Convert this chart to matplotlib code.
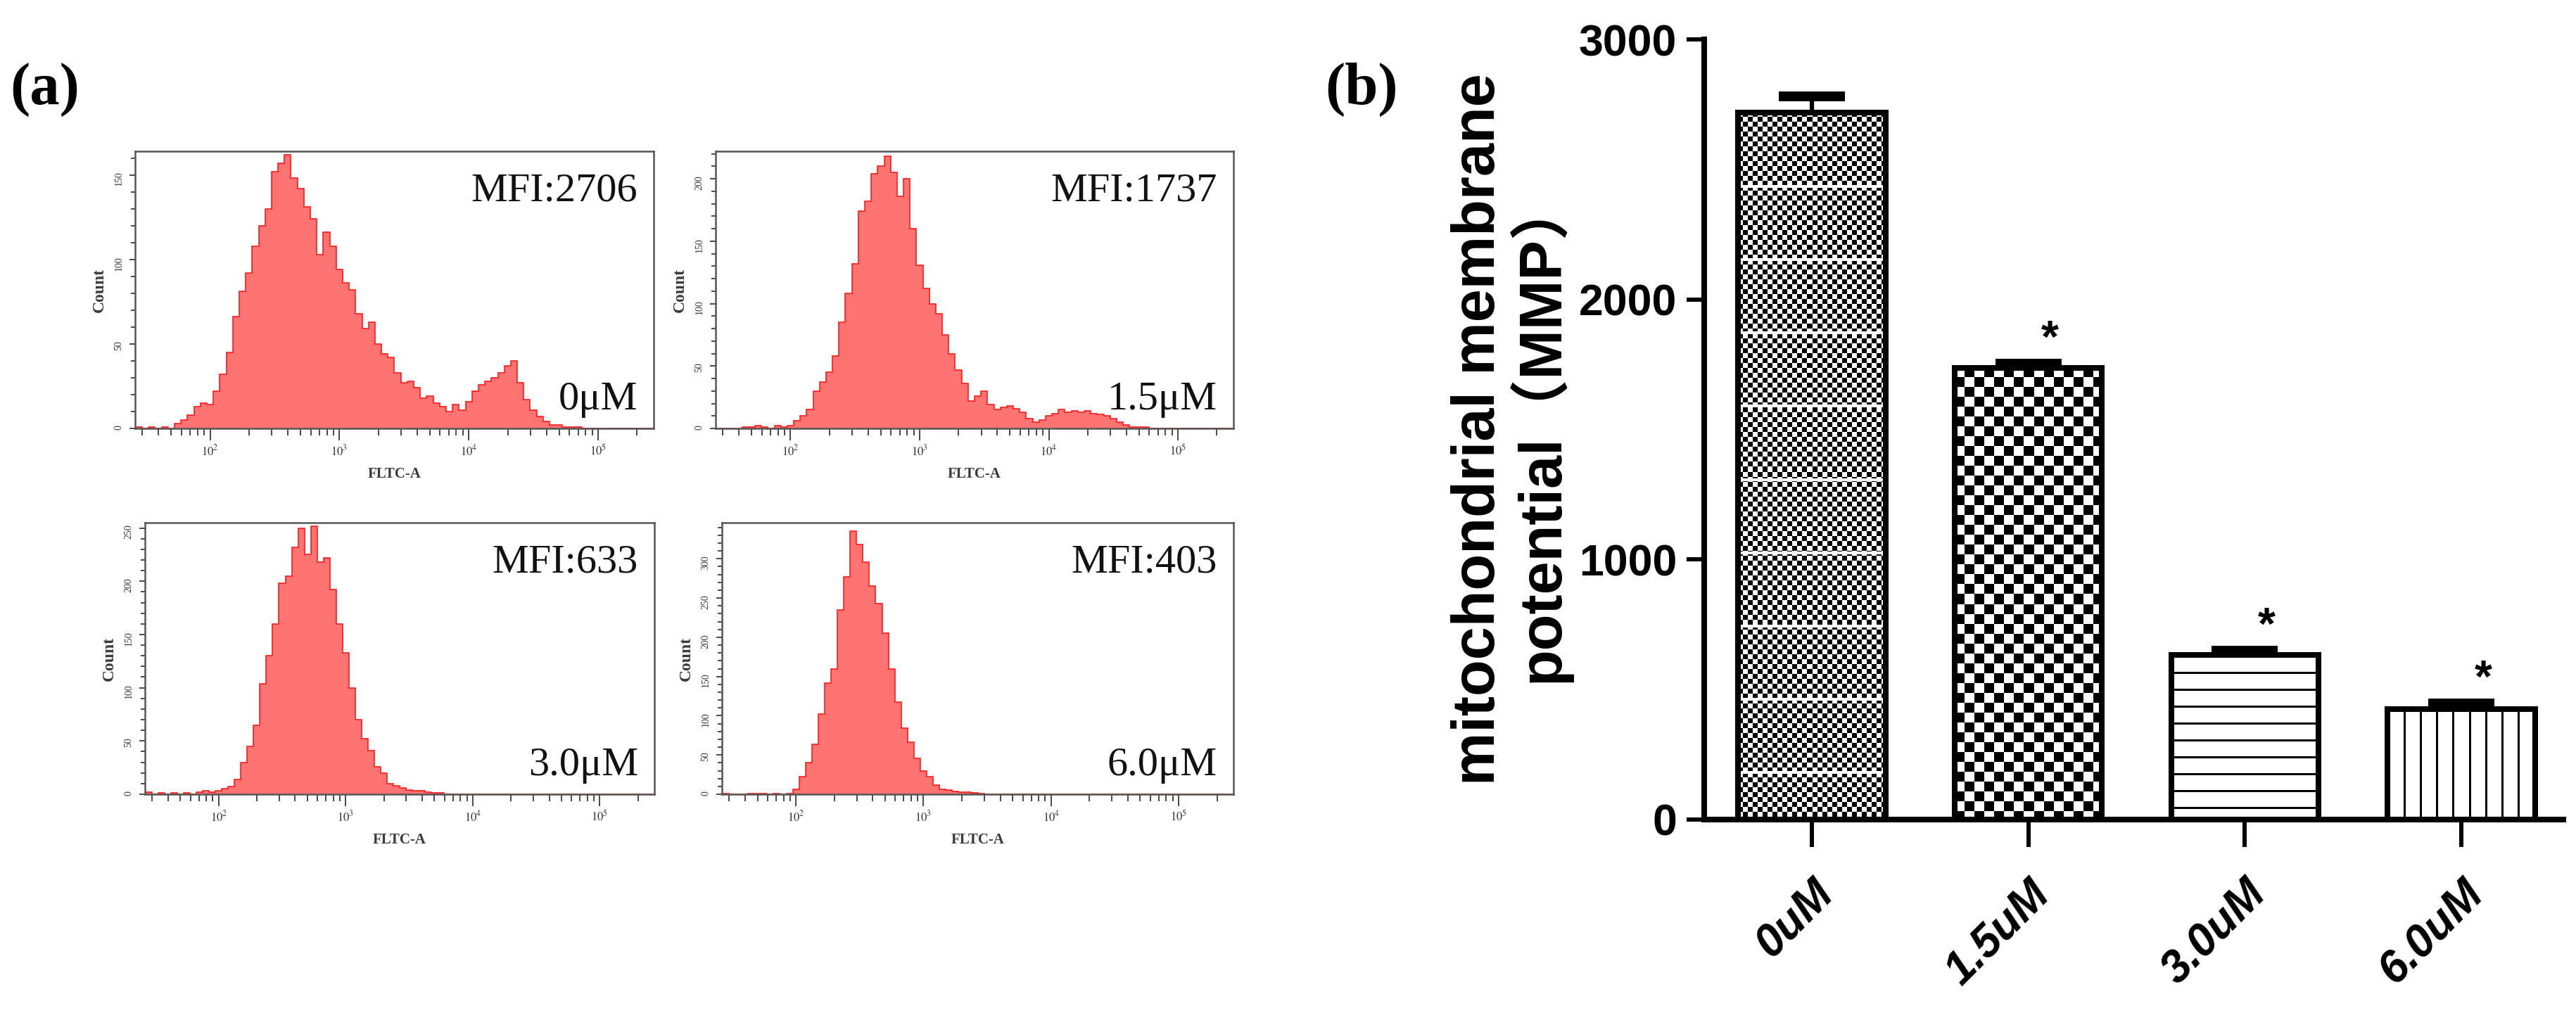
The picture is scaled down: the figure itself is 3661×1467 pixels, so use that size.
import numpy as np
import matplotlib
matplotlib.use('Agg')
import matplotlib.pyplot as plt
from matplotlib.ticker import MultipleLocator, LogLocator, NullFormatter

plt.rcParams['mathtext.fontset'] = 'stix'

# ---------------- data ----------------
# (a) flow cytometry histograms: counts per channel, channels every 0.05 decade from 10^1.45
log_start = 1.45
log_step = 0.05
counts_0uM = [1, 0, 1, 0, 1, 0, 3, 5, 8, 13,
              15, 14, 22, 32, 45, 66, 81, 92, 108, 120,
              130, 152, 157, 162, 148, 142, 131, 124, 103, 116,
              108, 94, 86, 82, 68, 59, 63, 50, 44, 42,
              33, 27, 28, 24, 18, 19, 15, 13, 10, 14,
              11, 16, 22, 26, 28, 30, 33, 37, 40, 27,
              17, 11, 7, 4, 2, 2, 1, 1, 1, 0,
              0, 0, 0, 0, 0, 0, 0, 0, 0, 0]
counts_15uM = [0, 0, 0, 0, 1, 1, 2, 1, 0, 2,
               1, 2, 6, 10, 15, 30, 37, 45, 58, 85,
               108, 132, 174, 182, 204, 210, 218, 205, 186, 200,
               160, 131, 112, 100, 92, 75, 60, 47, 36, 22,
               26, 30, 19, 15, 17, 18, 16, 13, 8, 5,
               7, 10, 12, 15, 13, 14, 13, 14, 12, 11,
               10, 8, 5, 3, 1, 1, 1, 0, 0, 0,
               0, 0, 0, 0, 0, 0, 0, 0, 0, 0]
counts_30uM = [2, 0, 1, 0, 1, 0, 1, 0, 2, 3,
               2, 3, 5, 7, 14, 30, 45, 65, 104, 130,
               160, 198, 205, 232, 250, 225, 252, 218, 222, 192,
               160, 133, 100, 70, 52, 41, 26, 20, 10, 8,
               6, 4, 3, 3, 2, 1, 1, 0, 0, 0,
               0, 0, 0, 0, 0, 0, 0, 0, 0, 0,
               0, 0, 0, 0, 0, 0, 0, 0, 0, 0,
               0, 0, 0, 0, 0, 0, 0, 0, 0, 0]
counts_60uM = [1, 0, 0, 0, 1, 1, 1, 0, 1, 0,
               1, 6, 22, 40, 64, 102, 142, 160, 235, 277,
               335, 318, 296, 265, 243, 205, 160, 117, 84, 66,
               46, 30, 22, 12, 6, 5, 4, 3, 3, 2,
               1, 0, 0, 0, 0, 0, 0, 0, 0, 0,
               0, 0, 0, 0, 0, 0, 0, 0, 0, 0,
               0, 0, 0, 0, 0, 0, 0, 0, 0, 0,
               0, 0, 0, 0, 0, 0, 0, 0, 0, 0]
hist_counts = [counts_0uM, counts_15uM, counts_30uM, counts_60uM]
dose_labels = ['0μM', '1.5μM', '3.0μM', '6.0μM']
mfi_values = [2706, 1737, 633, 403]
count_max = [164, 222, 255, 346]

# (b) mitochondrial membrane potential
groups = ['0uM', '1.5uM', '3.0uM', '6.0uM']
mmp_mean = [2720, 1737, 633, 425]
mmp_err = [60, 15, 15, 20]
significant = [False, True, True, True]
bar_fills = ['fine', 'coarse', 'hlines', 'vlines']

# ---------------- figure ----------------
W, H = 3662, 1467
fig = plt.figure(figsize=(W / 100, H / 100), dpi=100)


def px_rect(x0, y0, x1, y1):
    return [x0 / W, 1 - y1 / H, (x1 - x0) / W, (y1 - y0) / H]


hist_boxes = [(192, 215, 929, 609), (1017, 215, 1753, 609),
              (206, 743, 930, 1129), (1026, 743, 1753, 1129)]
serif = 'Liberation Serif'
gray = '#3a3a3a'

for counts, dose, mfi, ymax, box in zip(hist_counts, dose_labels, mfi_values, count_max, hist_boxes):
    ax = fig.add_axes(px_rect(*box))
    n = len(counts)
    edges = 10 ** (log_start - log_step / 2 + log_step * np.arange(n + 1))
    ax.stairs(counts, edges, fill=True, color='#ff7373', lw=0)
    ax.stairs(counts, edges, color='#ff1010', lw=1.1)
    ax.set_xscale('log')
    ax.set_xlim(10 ** 1.42, 10 ** 5.43)
    ax.set_ylim(0, ymax)

    ax.set_xticks([1e2, 1e3, 1e4, 1e5], [r'$10^{2}$', r'$10^{3}$', r'$10^{4}$', r'$10^{5}$'])
    ax.xaxis.set_minor_locator(LogLocator(base=10, subs=np.arange(2, 10), numticks=50))
    ax.xaxis.set_minor_formatter(NullFormatter())
    ax.yaxis.set_major_locator(MultipleLocator(50))
    ax.yaxis.set_minor_locator(MultipleLocator(10))
    ax.tick_params(which='both', direction='out', color=gray, width=1.3, labelcolor=gray)
    ax.tick_params(axis='x', which='major', length=12, pad=4, labelsize=12)
    ax.tick_params(axis='x', which='minor', length=7)
    ax.tick_params(axis='y', which='major', length=6, pad=6, labelsize=10, labelrotation=90)
    ax.tick_params(axis='y', which='minor', length=4)
    for lab in ax.get_yticklabels():
        lab.set_family(serif)
    for sp in ax.spines.values():
        sp.set_color('#555555')
        sp.set_linewidth(1.8)

    bw = box[2] - box[0]
    bh = box[3] - box[1]
    ax.set_ylabel('Count', fontsize=17, fontweight='bold', family=serif, color=gray)
    ax.yaxis.set_label_coords(-40 / bw, 0.5)
    ax.set_xlabel('FLTC-A', fontsize=15, fontweight='bold', family=serif, color=gray)
    ax.xaxis.set_label_coords(0.5, -55 / bh)

    ax.text(1 - 23 / bw, 1 - 30 / bh, 'MFI:%d' % mfi, transform=ax.transAxes,
            ha='right', va='top', fontsize=42, family=serif, color='#111111')
    ax.text(1 - 23 / bw, 27 / bh, dose, transform=ax.transAxes,
            ha='right', va='baseline', fontsize=42, family=serif, color='#111111')

# ---------------- panel (b) ----------------
axb = fig.add_axes(px_rect(2422, 56, 3643, 1165))
xpos = np.arange(len(groups))
axb.set_xlim(-0.497, 3.471)
axb.set_ylim(0, 3000)
bars = axb.bar(xpos, mmp_mean, width=0.68, facecolor='none', edgecolor='black',
               linewidth=5.8, zorder=3)


def pattern(kind, h, w):
    r, c = np.indices((h, w))
    if kind == 'fine':
        img = ((r // 7 + c // 7) % 2).astype(float)
        img[(r % 104) < 4] = 0
    elif kind == 'coarse':
        img = ((r // 14 + c // 14) % 2).astype(float)
    elif kind == 'hlines':
        img = ((r % 24) < 3).astype(float)
    else:
        img = ((c % 23) < 3).astype(float)
    return img


for bar, kind in zip(bars, bar_fills):
    bb = bar.get_window_extent()
    img = pattern(kind, int(round(bb.height)), int(round(bb.width)))
    im = axb.imshow(img, cmap='gray_r', vmin=0, vmax=1, interpolation='nearest',
                    extent=[bar.get_x(), bar.get_x() + bar.get_width(), 0, bar.get_height()],
                    aspect='auto', zorder=2)
    im.set_clip_path(bar)

eb = axb.errorbar(xpos, mmp_mean, yerr=[np.zeros(len(xpos)), mmp_err], fmt='none',
                  ecolor='black', elinewidth=4.5, capsize=34, capthick=10, zorder=4)
eb[1][0].set_visible(False)  # lower cap sits on the bar top, hide it

for xi, m, e, sig in zip(xpos, mmp_mean, mmp_err, significant):
    if sig:
        axb.text(xi + 0.1, m + e + 45, '*', ha='center', va='baseline', fontsize=46,
                 fontweight='bold', family='Liberation Sans')

axb.set_xlim(-0.497, 3.471)
axb.set_ylim(0, 3000)
for s in ['top', 'right']:
    axb.spines[s].set_visible(False)
for s in ['left', 'bottom']:
    axb.spines[s].set_linewidth(5.8)

axb.set_yticks([0, 1000, 2000, 3000])
axb.set_yticklabels(['0', '1000', '2000', '3000'], fontsize=45, fontweight='bold',
                    family='Liberation Sans')
axb.set_xticks(xpos)
axb.set_xticklabels(groups, rotation=45, ha='right', va='top', rotation_mode='anchor',
                    fontsize=46, fontweight='bold', fontstyle='italic', family='Liberation Sans')
axb.tick_params(axis='y', length=18, width=4.3, pad=10)
axb.tick_params(axis='x', length=28, width=4.3, pad=26)

axb.set_ylabel('mitochondrial membrane\npotential（MMP）', fontsize=61, fontweight='bold',
               family=['Liberation Sans', 'Noto Sans CJK SC'], linespacing=1.0)
axb.yaxis.set_label_coords(-0.155, 0.5)

# panel letters
fig.text(14 / W, 1 - 148 / H, '(a)', fontsize=61, fontweight='bold', family=serif, va='baseline')
fig.text(1883 / W, 1 - 148 / H, '(b)', fontsize=61, fontweight='bold', family=serif, va='baseline')

fig.savefig('out.png', dpi=100)
